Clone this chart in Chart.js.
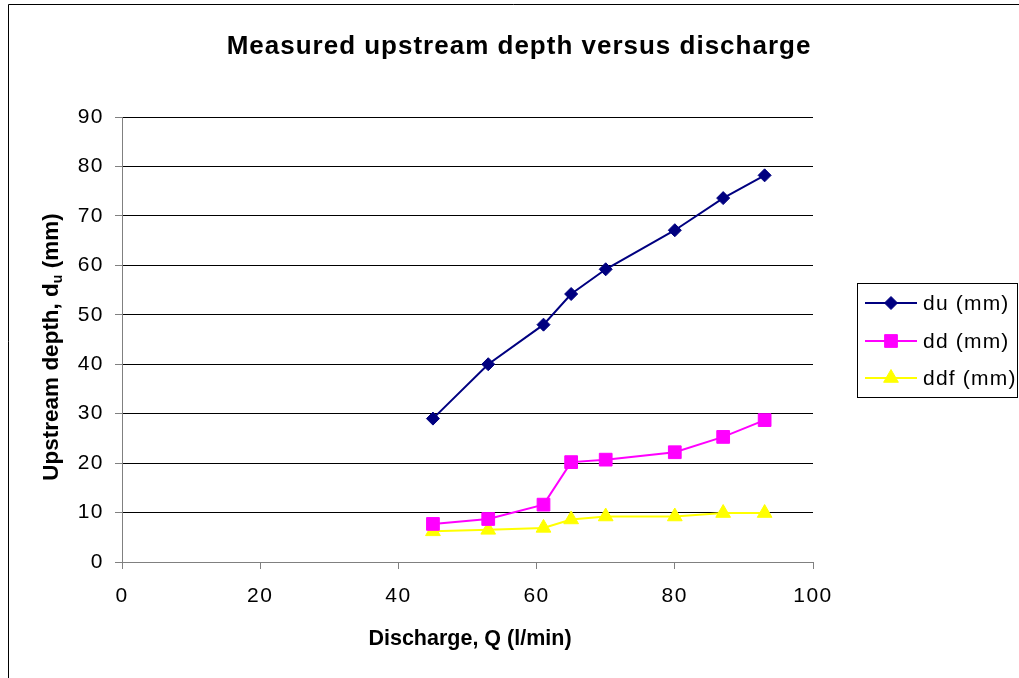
<!DOCTYPE html>
<html>
<head>
<meta charset="utf-8">
<title>Measured upstream depth versus discharge</title>
<script src="https://cdn.jsdelivr.net/npm/chart.js@4.4.1/dist/chart.umd.min.js"></script>
<style>
  html, body { margin: 0; padding: 0; background: #fff; }
  #depthChart { display: block; }
</style>
</head>
<body>
<canvas id="depthChart" width="1019" height="678"></canvas>
<script>
// discharge Q (l/min) and the three measured depths (mm)
const discharge = [45, 53, 61, 65, 70, 80, 87, 93];
const duDepth = [29, 40, 48, 54.2, 59.2, 67.1, 73.6, 78.2];
const ddDepth = [7.7, 8.7, 11.6, 20.2, 20.7, 22.2, 25.3, 28.7];
const ddfDepth = [6.2, 6.5, 6.9, 8.6, 9.2, 9.2, 9.9, 9.9];

const seriesNames = ['du (mm)', 'dd (mm)', 'ddf (mm)'];
const xTickValues = [0, 20, 40, 60, 80, 100];
const yTickValues = [0, 10, 20, 30, 40, 50, 60, 70, 80, 90];

const chartTitle = 'Measured upstream depth versus discharge';
const xTitle = 'Discharge, Q (l/min)';

const FONT = '"Liberation Sans", Arial, sans-serif';
const AXIS_GREY = '#808080';

function toPoints(ys) {
    return discharge.map(function(q, i) { return { x: q, y: ys[i] }; });
}

function series(label, data, color, style, radius) {
    return {
        label: label,
        data: toPoints(data),
        showLine: true,
        borderColor: color,
        backgroundColor: color,
        borderWidth: 2,
        pointStyle: style,
        pointRadius: radius,
        pointHoverRadius: radius,
        pointBorderWidth: 1,
        pointBorderColor: color,
        pointBackgroundColor: color
    };
}

// small marker drawer for the boxed legend on the right
function drawMarker(ctx, style, r, x, y) {
    ctx.beginPath();
    if (style === 'rectRot') {
        ctx.moveTo(x - r, y);
        ctx.lineTo(x, y - r);
        ctx.lineTo(x + r, y);
        ctx.lineTo(x, y + r);
    } else if (style === 'rect') {
        const h = r * Math.SQRT1_2;
        ctx.rect(x - h, y - h, 2 * h, 2 * h);
    } else {
        ctx.moveTo(x, y - r);
        ctx.lineTo(x + r * Math.sin(2 * Math.PI / 3), y + r / 2);
        ctx.lineTo(x - r * Math.sin(2 * Math.PI / 3), y + r / 2);
    }
    ctx.closePath();
    ctx.fill();
    ctx.stroke();
}

const frameAndText = {
    id: 'frameAndText',
    beforeDraw: function(chart) {
        const ctx = chart.ctx;
        ctx.save();
        ctx.fillStyle = '#fff';
        ctx.fillRect(0, 0, chart.width, chart.height);
        ctx.strokeStyle = '#000';
        ctx.lineWidth = 1;
        ctx.beginPath();
        ctx.moveTo(8.5, chart.height);
        ctx.lineTo(8.5, 4.5);
        ctx.lineTo(chart.width, 4.5);
        ctx.stroke();
        ctx.restore();
        // Excel-like wide spacing for tick labels
        ctx.letterSpacing = '1.5px';
    },
    afterDraw: function(chart) {
        const ctx = chart.ctx;
        ctx.save();
        ctx.fillStyle = '#000';

        // chart title
        ctx.letterSpacing = '1px';
        ctx.font = 'bold 26px ' + FONT;
        ctx.textAlign = 'center';
        ctx.textBaseline = 'alphabetic';
        ctx.fillText(chartTitle, 519, 54);

        // x axis title
        ctx.letterSpacing = '0px';
        ctx.font = 'bold 21.5px ' + FONT;
        ctx.fillText(xTitle, 470, 645);

        // y axis title with subscript u
        ctx.save();
        ctx.translate(52, 347);
        ctx.rotate(-Math.PI / 2);
        ctx.textAlign = 'left';
        const big = 'bold 22.5px ' + FONT;
        const small = 'bold 14px ' + FONT;
        const p1 = 'Upstream depth, d', p2 = 'u', p3 = ' (mm)';
        ctx.font = big;
        const w1 = ctx.measureText(p1).width;
        const w3 = ctx.measureText(p3).width;
        ctx.font = small;
        const w2 = ctx.measureText(p2).width;
        let tx = -(w1 + w2 + w3) / 2;
        ctx.font = big;
        ctx.fillText(p1, tx, 6);
        tx += w1;
        ctx.font = small;
        ctx.fillText(p2, tx, 10);
        tx += w2;
        ctx.font = big;
        ctx.fillText(p3, tx, 6);
        ctx.restore();

        // legend box
        ctx.strokeStyle = '#000';
        ctx.lineWidth = 1;
        ctx.strokeRect(857.5, 283.5, 160, 114);
        const rows = [303, 341, 378];
        ctx.font = '21px ' + FONT;
        ctx.letterSpacing = '1.2px';
        ctx.textAlign = 'left';
        ctx.textBaseline = 'middle';
        chart.data.datasets.forEach(function(ds, i) {
            const y = rows[i];
            ctx.strokeStyle = ds.borderColor;
            ctx.lineWidth = 2;
            ctx.beginPath();
            ctx.moveTo(865, y);
            ctx.lineTo(917, y);
            ctx.stroke();
            ctx.fillStyle = ds.pointBackgroundColor;
            ctx.lineWidth = 1;
            drawMarker(ctx, ds.pointStyle, ds.pointRadius, 891, y);
            ctx.fillStyle = '#000';
            ctx.fillText(ds.label, 923, y + 1);
        });
        ctx.restore();
    }
};

new Chart(document.getElementById('depthChart'), {
    type: 'scatter',
    data: {
        datasets: [
            series(seriesNames[0], duDepth, '#000080', 'rectRot', 6.5),
            series(seriesNames[1], ddDepth, '#FF00FF', 'rect', 9),
            series(seriesNames[2], ddfDepth, '#FFFF00', 'triangle', 8.5)
        ]
    },
    options: {
        responsive: false,
        animation: false,
        events: [],
        layout: { padding: { top: 117, right: 206, bottom: 0, left: 0 } },
        plugins: {
            legend: { display: false },
            title: { display: false },
            tooltip: { enabled: false }
        },
        scales: {
            x: {
                type: 'linear',
                min: 0,
                max: 100,
                afterFit: function(scale) { scale.height = 116; },
                afterBuildTicks: function(scale) {
                    scale.ticks = xTickValues.map(function(v) { return { value: v }; });
                },
                grid: {
                    drawOnChartArea: false,
                    drawTicks: true,
                    tickLength: 7,
                    tickColor: AXIS_GREY
                },
                border: { color: AXIS_GREY, width: 1 },
                ticks: {
                    color: '#000',
                    padding: 15,
                    maxRotation: 0,
                    font: { family: FONT, size: 21 }
                }
            },
            y: {
                type: 'linear',
                min: 0,
                max: 90,
                afterFit: function(scale) { scale.width = 122; },
                afterBuildTicks: function(scale) {
                    scale.ticks = yTickValues.map(function(v) { return { value: v }; });
                },
                grid: {
                    color: function(c) { return c.tick && c.tick.value === 0 ? AXIS_GREY : '#000'; },
                    lineWidth: 1,
                    tickLength: 7,
                    tickColor: AXIS_GREY
                },
                border: { color: AXIS_GREY, width: 1 },
                ticks: {
                    color: '#000',
                    padding: 11,
                    font: { family: FONT, size: 21 }
                }
            }
        }
    },
    plugins: [frameAndText]
});
</script>
</body>
</html>
